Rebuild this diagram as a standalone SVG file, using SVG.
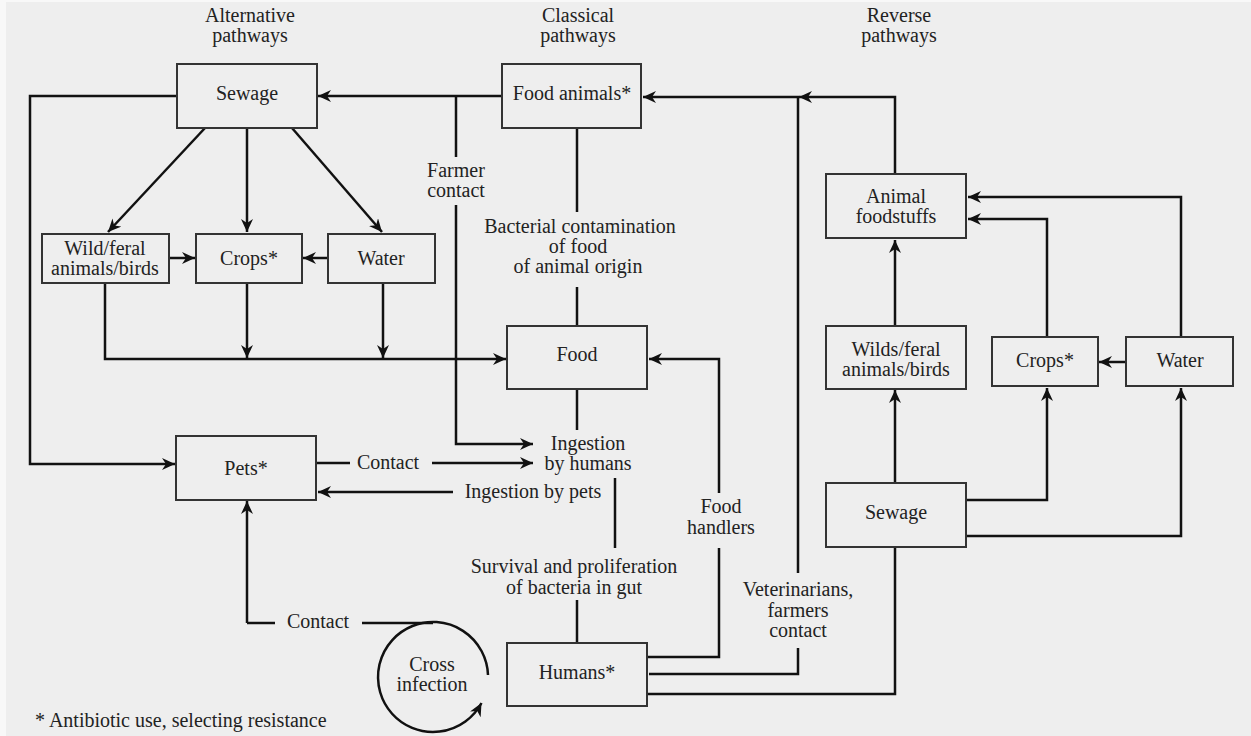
<svg xmlns="http://www.w3.org/2000/svg" width="1251" height="736" viewBox="0 0 1251 736">
<defs>
<marker id="arr" markerUnits="userSpaceOnUse" markerWidth="14" markerHeight="12" refX="13" refY="6" orient="auto">
<path d="M0,0 L13,6 L0,12 L4,6 Z" fill="#111"/>
</marker>
<style>
.box{fill:none;stroke:#333;stroke-width:2}
.t{font-family:"Liberation Serif","Times New Roman",serif;font-size:20px;fill:#222;text-anchor:middle}
.c{fill:none;stroke:#111;stroke-width:2.5}
.ca{fill:none;stroke:#111;stroke-width:2.5;marker-end:url(#arr)}
</style>
</defs>
<rect x="0" y="0" width="1251" height="736" fill="#f8f8f8"/>
<rect x="6" y="2" width="1245" height="734" fill="#eeeeee"/>

<g id="headers">
<text class="t" x="250" y="22">Alternative</text>
<text class="t" x="250" y="42">pathways</text>
<text class="t" x="578" y="22">Classical</text>
<text class="t" x="578" y="42">pathways</text>
<text class="t" x="899" y="22">Reverse</text>
<text class="t" x="899" y="42">pathways</text>
</g>

<g id="connectors">
<path class="ca" d="M502,96 H318"/>
<path class="ca" d="M177,96 H30 V464 H175"/>
<path class="ca" d="M205,128 L108,232"/>
<path class="ca" d="M247,128 V232"/>
<path class="ca" d="M292,128 L382,232"/>
<path class="ca" d="M169,258 H195"/>
<path class="ca" d="M328,258 H303"/>
<path class="ca" d="M105,283 V359 H506"/>
<path class="ca" d="M247,283 V358"/>
<path class="ca" d="M383,283 V358"/>
<path class="c" d="M456,96 V157"/>
<path class="ca" d="M456,205 V444 H533"/>
<path class="c" d="M577,128 V212"/>
<path class="c" d="M577,287 V326"/>
<path class="c" d="M577,389 V430"/>
<path class="c" d="M316,463 H350"/>
<path class="ca" d="M432,463 H533"/>
<path class="ca" d="M453,492 H318"/>
<path class="c" d="M615,478 V548"/>
<path class="c" d="M577,600 V643"/>
<path class="c" d="M647,657 H719 V548"/>
<path class="ca" d="M719,493 V359 H649"/>
<path class="c" d="M649,674 H798 V648"/>
<path class="ca" d="M798,573 V97 H643"/>
<path class="ca" d="M895,174 V97 H799"/>
<path class="c" d="M647,694 H895 V547"/>
<path class="ca" d="M1181,337 V197 H968"/>
<path class="ca" d="M1047,337 V219 H968"/>
<path class="ca" d="M895,326 V240"/>
<path class="ca" d="M1126,362 H1099"/>
<path class="ca" d="M895,483 V390"/>
<path class="ca" d="M966,500 H1047 V388"/>
<path class="ca" d="M966,536 H1181 V388"/>
<path class="ca" d="M247,623 V501"/>
<path class="c" d="M247,623 H275"/>
<path class="c" d="M362,623 H433"/>
<path class="ca" d="M488,675 A55,55 0 1 0 481.5,703"/>
</g>

<g id="labels">
<text class="t" x="456" y="177">Farmer</text>
<text class="t" x="456" y="197">contact</text>
<text class="t" x="580" y="233">Bacterial contamination</text>
<text class="t" x="578" y="253">of food</text>
<text class="t" x="578" y="273">of animal origin</text>
<text class="t" x="588" y="450">Ingestion</text>
<text class="t" x="588" y="470">by humans</text>
<text class="t" x="388" y="469">Contact</text>
<text class="t" x="533" y="498">Ingestion by pets</text>
<text class="t" x="721" y="513">Food</text>
<text class="t" x="721" y="534">handlers</text>
<text class="t" x="574" y="573">Survival and proliferation</text>
<text class="t" x="574" y="594">of bacteria in gut</text>
<text class="t" x="798" y="596">Veterinarians,</text>
<text class="t" x="798" y="617">farmers</text>
<text class="t" x="798" y="637">contact</text>
<text class="t" x="318" y="628">Contact</text>
<text class="t" x="432" y="671">Cross</text>
<text class="t" x="432" y="691">infection</text>
<text class="t" x="35" y="727" style="text-anchor:start">* Antibiotic use, selecting resistance</text>
</g>

<g id="sewage-alt"><rect class="box" x="177" y="64" width="140" height="64"/><text class="t" x="247" y="100">Sewage</text></g>
<g id="food-animals"><rect class="box" x="502" y="64" width="139" height="64"/><text class="t" x="572" y="100">Food animals*</text></g>
<g id="wild-alt"><rect class="box" x="42" y="234" width="127" height="49"/><text class="t" x="105" y="255">Wild/feral</text><text class="t" x="105" y="275">animals/birds</text></g>
<g id="crops-alt"><rect class="box" x="196" y="234" width="106" height="49"/><text class="t" x="249" y="265">Crops*</text></g>
<g id="water-alt"><rect class="box" x="328" y="234" width="107" height="49"/><text class="t" x="381" y="265">Water</text></g>
<g id="food"><rect class="box" x="507" y="326" width="140" height="63"/><text class="t" x="577" y="361">Food</text></g>
<g id="pets"><rect class="box" x="176" y="436" width="140" height="64"/><text class="t" x="246" y="475">Pets*</text></g>
<g id="humans"><rect class="box" x="507" y="643" width="140" height="63"/><text class="t" x="577" y="679">Humans*</text></g>
<g id="animal-foodstuffs"><rect class="box" x="826" y="174" width="140" height="64"/><text class="t" x="896" y="203">Animal</text><text class="t" x="896" y="223">foodstuffs</text></g>
<g id="wilds-rev"><rect class="box" x="826" y="326" width="140" height="63"/><text class="t" x="896" y="356">Wilds/feral</text><text class="t" x="896" y="376">animals/birds</text></g>
<g id="crops-rev"><rect class="box" x="992" y="337" width="106" height="49"/><text class="t" x="1045" y="367">Crops*</text></g>
<g id="water-rev"><rect class="box" x="1126" y="337" width="107" height="49"/><text class="t" x="1180" y="367">Water</text></g>
<g id="sewage-rev"><rect class="box" x="826" y="483" width="140" height="64"/><text class="t" x="896" y="519">Sewage</text></g>
</svg>
